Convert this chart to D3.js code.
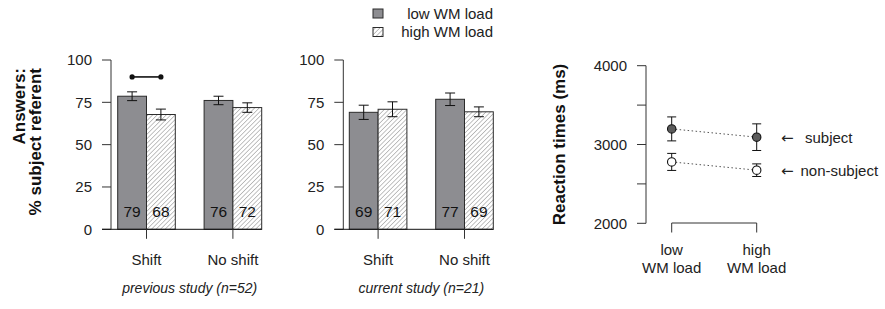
<!DOCTYPE html>
<html>
<head>
<meta charset="utf-8">
<script src="https://cdn.jsdelivr.net/npm/d3@7"></script>
<style>
  body { margin: 0; background: #fff; }
  svg { display: block; font-family: "Liberation Sans", Arial, sans-serif; }
</style>
</head>
<body>
<script>
// Data
const groups = ["Shift", "No shift"];
const loads = ["low WM load", "high WM load"];

// previous study (n=52): [low, high] for each group
const prevMeans = [[78.6, 67.8], [76.1, 71.9]];
const prevErr = [[2.6, 3.2], [2.5, 2.8]];
const prevLabels = [["79", "68"], ["76", "72"]];

// current study (n=21)
const currMeans = [[69.1, 70.9], [76.8, 69.4]];
const currErr = [[4.2, 4.4], [3.7, 2.9]];
const currLabels = [["69", "71"], ["77", "69"]];

const pctTicks = [0, 25, 50, 75, 100];

// reaction times (ms), x = low / high WM load
const rtLoads = ["low", "high"];
const rtSubject = [3198, 3093];
const rtSubjectErr = [152, 169];
const rtNonSubject = [2779, 2674];
const rtNonSubjectErr = [108, 80];
const rtTicks = [2000, 2500, 3000, 3500, 4000];
const rtTickLabels = ["2000", "", "3000", "", "4000"];

const ink = "#222";
const axisCol = "#333";
const darkFill = "#8d8d91";

const svg = d3.select("body").append("svg")
    .attr("width", 885)
    .attr("height", 309);

svg.append("rect").attr("width", 885).attr("height", 309).attr("fill", "#fff");

// hatch pattern for the high load bars
const defs = svg.append("defs");
const pat = defs.append("pattern")
    .attr("id", "hatch")
    .attr("patternUnits", "userSpaceOnUse")
    .attr("width", 3.2)
    .attr("height", 3.2)
    .attr("patternTransform", "rotate(45)");
pat.append("rect").attr("width", 3.2).attr("height", 3.2).attr("fill", "#fff");
pat.append("line")
    .attr("x1", 0).attr("y1", 0).attr("x2", 0).attr("y2", 3.2)
    .attr("stroke", "#9a9a9a").attr("stroke-width", 1.2);

const fillFor = i => i === 0 ? darkFill : "url(#hatch)";

// Shared y scale for the two bar panels
const yPct = d3.scaleLinear().domain([0, 100]).range([229.3, 60]);

// Draws one bar panel
function barPanel(axisX, barStart, means, errs, labels, caption) {
    const g = svg.append("g");

    const xGroup = d3.scaleBand()
        .domain(groups)
        .range([barStart, barStart + 144])
        .paddingInner(1 / 3);
    const xLoad = d3.scaleBand()
        .domain(loads)
        .range([0, xGroup.bandwidth()]);

    // y axis
    g.append("line")
        .attr("x1", axisX).attr("x2", axisX)
        .attr("y1", yPct(100)).attr("y2", yPct(0))
        .attr("stroke", axisCol);
    g.selectAll(".ytick")
        .data(pctTicks)
        .enter()
        .append("line")
        .attr("x1", axisX - 9).attr("x2", axisX)
        .attr("y1", d => yPct(d)).attr("y2", d => yPct(d))
        .attr("stroke", axisCol);
    g.selectAll(".ylab")
        .data(pctTicks)
        .enter()
        .append("text")
        .attr("x", axisX - 19)
        .attr("y", d => yPct(d))
        .attr("dy", "0.36em")
        .attr("text-anchor", "end")
        .attr("font-size", 15)
        .attr("fill", ink)
        .text(d => d);

    // bars
    groups.forEach((grp, gi) => {
        loads.forEach((ld, li) => {
            const x = xGroup(grp) + xLoad(ld);
            const w = xLoad.bandwidth();
            const v = means[gi][li];
            g.append("rect")
                .attr("x", x).attr("y", yPct(v))
                .attr("width", w).attr("height", yPct(0) - yPct(v))
                .attr("fill", fillFor(li))
                .attr("stroke", "#2b2b2b")
                .attr("stroke-width", 1);

            // error bar
            const cx = x + w / 2;
            const e = errs[gi][li];
            g.append("line")
                .attr("x1", cx).attr("x2", cx)
                .attr("y1", yPct(v + e)).attr("y2", yPct(v - e))
                .attr("stroke", "#111");
            [v + e, v - e].forEach(c => {
                g.append("line")
                    .attr("x1", cx - 5).attr("x2", cx + 5)
                    .attr("y1", yPct(c)).attr("y2", yPct(c))
                    .attr("stroke", "#111");
            });

            // value label in the bar
            g.append("text")
                .attr("x", cx)
                .attr("y", 216.5)
                .attr("text-anchor", "middle")
                .attr("font-size", 15.5)
                .attr("fill", "#111")
                .text(labels[gi][li]);
        });
    });

    // baseline and group ticks
    g.append("line")
        .attr("x1", axisX - 9).attr("x2", barStart + 144)
        .attr("y1", yPct(0)).attr("y2", yPct(0))
        .attr("stroke", "#111");
    groups.forEach(grp => {
        const cx = xGroup(grp) + xGroup.bandwidth() / 2;
        g.append("line")
            .attr("x1", cx).attr("x2", cx)
            .attr("y1", yPct(0)).attr("y2", yPct(0) + 9.5)
            .attr("stroke", axisCol);
        g.append("text")
            .attr("x", cx).attr("y", 265)
            .attr("text-anchor", "middle")
            .attr("font-size", 15)
            .attr("fill", ink)
            .text(grp);
    });

    g.append("text")
        .attr("x", barStart + 72).attr("y", 293)
        .attr("text-anchor", "middle")
        .attr("font-size", 14)
        .attr("font-style", "italic")
        .attr("fill", ink)
        .text(caption);

    return { g, xGroup, xLoad };
}

const p1 = barPanel(111, 117.7, prevMeans, prevErr, prevLabels, "previous study (n=52)");
barPanel(343.3, 349.3, currMeans, currErr, currLabels, "current study (n=21)");

// significance marker over the Shift bars of the previous study
const sigY = yPct(90);
const sigX = loads.map(ld => p1.xGroup("Shift") + p1.xLoad(ld) + p1.xLoad.bandwidth() / 2);
svg.append("line")
    .attr("x1", sigX[0]).attr("x2", sigX[1])
    .attr("y1", sigY).attr("y2", sigY)
    .attr("stroke", "#111").attr("stroke-width", 1.6);
svg.selectAll(".sigdot")
    .data(sigX)
    .enter()
    .append("circle")
    .attr("cx", d => d).attr("cy", sigY).attr("r", 2.6)
    .attr("fill", "#111");

// y axis title of the bar panels
const yTitle = svg.append("g").attr("font-weight", "bold").attr("font-size", 17).attr("fill", "#111");
yTitle.append("text")
    .attr("transform", "translate(25,68) rotate(-90)")
    .attr("text-anchor", "end")
    .text("Answers:");
yTitle.append("text")
    .attr("transform", "translate(40.5,68) rotate(-90)")
    .attr("text-anchor", "end")
    .text("% subject referent");

// legend
const legend = svg.append("g");
loads.forEach((ld, i) => {
    const yy = 13.5 + i * 18.5;
    legend.append("rect")
        .attr("x", 373).attr("y", yy - 4.5)
        .attr("width", 10).attr("height", 9)
        .attr("fill", fillFor(i))
        .attr("stroke", "#2b2b2b");
    legend.append("text")
        .attr("x", 493).attr("y", yy)
        .attr("dy", "0.36em")
        .attr("text-anchor", "end")
        .attr("font-size", 15)
        .attr("fill", ink)
        .text(ld);
});

// Reaction time panel
const rt = svg.append("g");
const yRT = d3.scaleLinear().domain([2000, 4000]).range([223.3, 65.7]);
const xRT = d3.scalePoint().domain(rtLoads).range([671.7, 756.7]);

rt.append("line")
    .attr("x1", 646).attr("x2", 646)
    .attr("y1", yRT(4000)).attr("y2", yRT(2000))
    .attr("stroke", axisCol);
rt.selectAll(".ytick")
    .data(rtTicks)
    .enter()
    .append("line")
    .attr("x1", 637).attr("x2", 646)
    .attr("y1", d => yRT(d)).attr("y2", d => yRT(d))
    .attr("stroke", axisCol);
rt.selectAll(".ylab")
    .data(rtTicks)
    .enter()
    .append("text")
    .attr("x", 627)
    .attr("y", d => yRT(d))
    .attr("dy", "0.36em")
    .attr("text-anchor", "end")
    .attr("font-size", 15)
    .attr("fill", ink)
    .text((d, i) => rtTickLabels[i]);

// x bracket
rt.append("line")
    .attr("x1", xRT("low")).attr("x2", xRT("high"))
    .attr("y1", 223).attr("y2", 223)
    .attr("stroke", axisCol);
rtLoads.forEach(l => {
    rt.append("line")
        .attr("x1", xRT(l)).attr("x2", xRT(l))
        .attr("y1", 223).attr("y2", 232.5)
        .attr("stroke", axisCol);
    rt.append("text")
        .attr("x", xRT(l)).attr("y", 254.5)
        .attr("text-anchor", "middle")
        .attr("font-size", 15).attr("fill", ink)
        .text(l);
    rt.append("text")
        .attr("x", xRT(l)).attr("y", 273)
        .attr("text-anchor", "middle")
        .attr("font-size", 15).attr("fill", ink)
        .text("WM load");
});

// series: dotted connector, error bars, points
const rtSeries = [
    { vals: rtSubject, errs: rtSubjectErr, fill: "#5c5c5c" },
    { vals: rtNonSubject, errs: rtNonSubjectErr, fill: "#fff" }
];
rtSeries.forEach(s => {
    rt.append("path")
        .attr("d", d3.line().x((d, i) => xRT(rtLoads[i])).y(d => yRT(d))(s.vals))
        .attr("fill", "none")
        .attr("stroke", "#555")
        .attr("stroke-width", 1)
        .attr("stroke-dasharray", "1.5,2.5");
    s.vals.forEach((v, i) => {
        const cx = xRT(rtLoads[i]);
        const e = s.errs[i];
        rt.append("line")
            .attr("x1", cx).attr("x2", cx)
            .attr("y1", yRT(v + e)).attr("y2", yRT(v - e))
            .attr("stroke", "#111");
        [v + e, v - e].forEach(c => {
            rt.append("line")
                .attr("x1", cx - 4.5).attr("x2", cx + 4.5)
                .attr("y1", yRT(c)).attr("y2", yRT(c))
                .attr("stroke", "#111");
        });
        rt.append("circle")
            .attr("cx", cx).attr("cy", yRT(v)).attr("r", 4.2)
            .attr("fill", s.fill)
            .attr("stroke", "#111")
            .attr("stroke-width", 1.1);
    });
});

// arrow labels next to the high load points
const arrowLabels = [
    { y: rtSubject[1], text: "subject", tx: 805 },
    { y: rtNonSubject[1], text: "non-subject", tx: 800.5 }
];
arrowLabels.forEach(a => {
    rt.append("text")
        .attr("x", 781).attr("y", yRT(a.y))
        .attr("dy", "0.36em")
        .attr("font-family", "DejaVu Sans")
        .attr("font-size", 15)
        .attr("fill", ink)
        .text("\u2190");
    rt.append("text")
        .attr("x", a.tx).attr("y", yRT(a.y))
        .attr("dy", "0.36em")
        .attr("font-size", 15)
        .attr("fill", ink)
        .text(a.text);
});

rt.append("text")
    .attr("transform", "translate(565," + yRT(3000) + ") rotate(-90)")
    .attr("text-anchor", "middle")
    .attr("font-weight", "bold")
    .attr("font-size", 17)
    .attr("fill", "#111")
    .text("Reaction times (ms)");
</script>
</body>
</html>
